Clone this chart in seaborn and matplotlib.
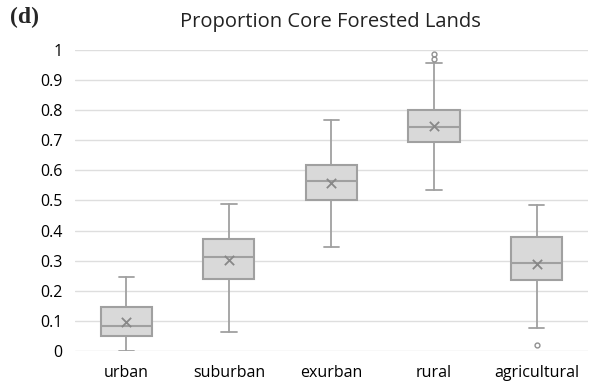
import matplotlib
matplotlib.use("Agg")
import matplotlib.pyplot as plt
import seaborn as sns
import pandas as pd

categories = ["urban", "suburban", "exurban", "rural", "agricultural"]
whislo = [0.0, 0.064, 0.345, 0.534, 0.077]
q1 = [0.050, 0.239, 0.503, 0.693, 0.237]
median = [0.084, 0.312, 0.563, 0.745, 0.291]
q3 = [0.147, 0.371, 0.617, 0.801, 0.379]
whishi = [0.247, 0.488, 0.768, 0.957, 0.484]
means = [0.097, 0.302, 0.558, 0.747, 0.288]
fliers = [[], [], [], [0.970, 0.985], [0.021]]
yticks = [0, 0.1, 0.2, 0.3, 0.4, 0.5, 0.6, 0.7, 0.8, 0.9, 1]
ytick_labels = ["0", "0.1", "0.2", "0.3", "0.4", "0.5", "0.6", "0.7", "0.8", "0.9", "1"]

sns.set_style("white")
plt.rcParams["font.family"] = ["Open Sans", "DejaVu Sans"]

fig = plt.figure(figsize=(5.95, 3.87), dpi=100)
ax = fig.add_axes([0.126, 0.093, 0.862, 0.778])

edge = "#a0a0a0"
stats = []
for i, c in enumerate(categories):
    stats.append(dict(label=c, whislo=whislo[i], q1=q1[i], med=median[i],
                      q3=q3[i], whishi=whishi[i], fliers=fliers[i], mean=means[i]))

ax.bxp(stats, positions=range(len(categories)), widths=0.5, capwidths=0.15,
       patch_artist=True, showmeans=False,
       boxprops=dict(facecolor="#d9d9d9", edgecolor=edge, linewidth=1.5),
       medianprops=dict(color=edge, linewidth=1.5),
       whiskerprops=dict(color=edge, linewidth=1.3),
       capprops=dict(color=edge, linewidth=1.3),
       flierprops=dict(marker="o", markersize=3.5, markerfacecolor="none",
                       markeredgecolor="#909090", markeredgewidth=1.0),
       zorder=3)

df = pd.DataFrame({"category": categories, "mean": means})
sns.scatterplot(data=df, x="category", y="mean", marker="x", s=45,
                color="#888888", linewidth=1.3, ax=ax, zorder=4, legend=False)

ax.set_xlim(-0.5, 4.5)
ax.set_ylim(0, 1.0)
ax.set_yticks(yticks)
ax.set_yticklabels(ytick_labels)
ax.set_xticks(range(len(categories)))
ax.set_xticklabels(categories)
ax.set_xlabel("")
ax.set_ylabel("")
ax.grid(axis="y", color="#dedede", linewidth=1.0, zorder=0)
ax.set_axisbelow(True)
for s in ax.spines.values():
    s.set_visible(False)
ax.tick_params(axis="both", length=0, labelsize=11.5, colors="#000000")
ax.tick_params(axis="x", pad=10)
ax.tick_params(axis="y", pad=9)

fig.text(0.555, 0.942, "Proportion Core Forested Lands", ha="center", va="center",
         fontsize=14.5, color="#222222")
fig.text(0.017, 0.955, "(d)", ha="left", va="center", fontsize=17,
         fontweight="bold", family=["Liberation Serif", "DejaVu Serif"])

fig.savefig("out.png", dpi=100)
